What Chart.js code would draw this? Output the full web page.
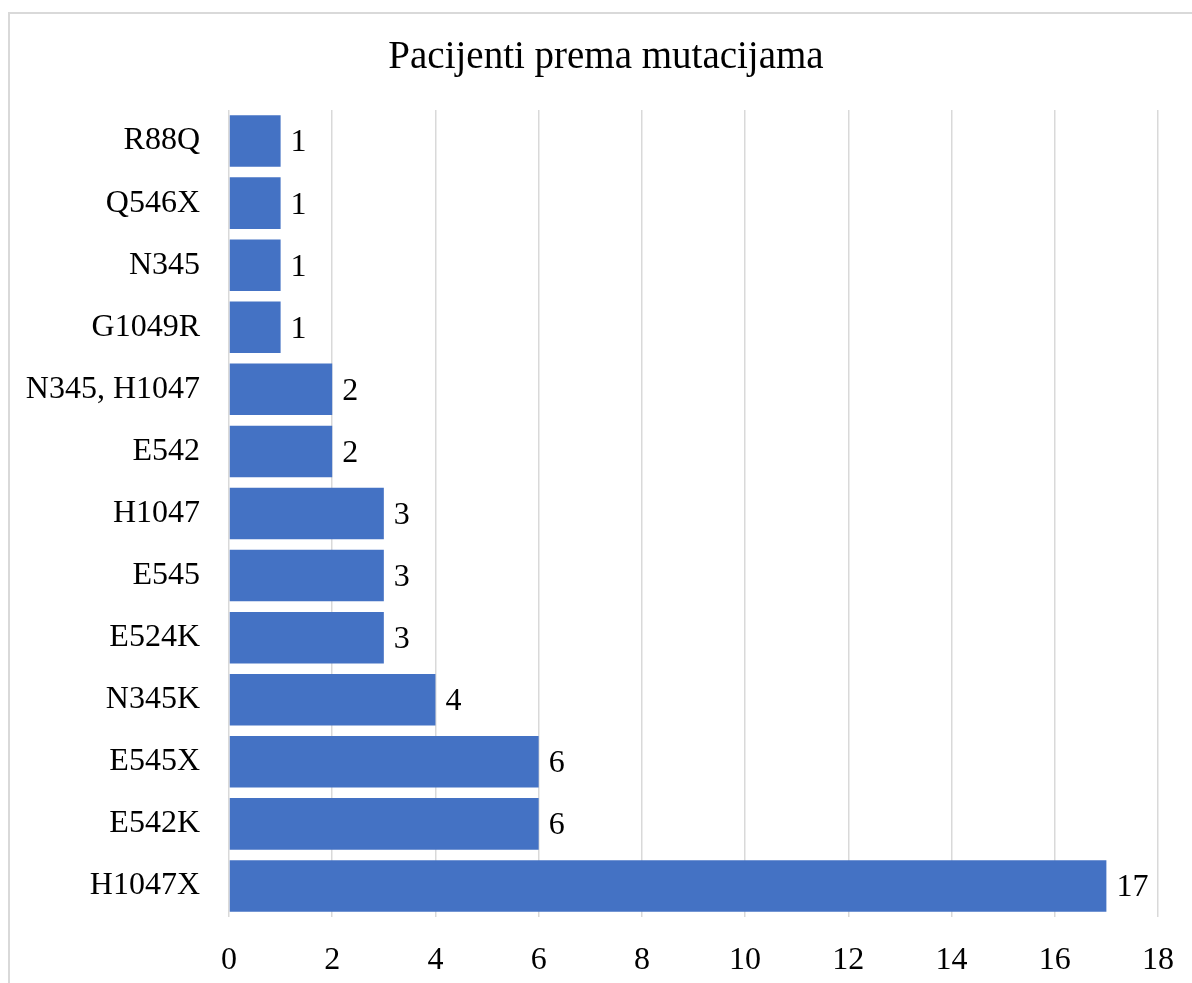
<!DOCTYPE html>
<html>
<head>
<meta charset="utf-8">
<script src="https://cdn.jsdelivr.net/npm/chart.js@4"></script>
<style>
    body { margin: 0; background: #fff; overflow: hidden; }
    .frame { position: absolute; left: 8px; top: 12px; width: 1400px; height: 1200px; border: 2px solid #d9d9d9; }
    .wrap { position: absolute; left: 0; top: 0; width: 1192px; height: 983px; }
</style>
</head>
<body>
<div class="frame"></div>
<div class="wrap"><canvas id="mut-chart"></canvas></div>
<script>
const chartTitle = 'Pacijenti prema mutacijama';
const categories = ['R88Q', 'Q546X', 'N345', 'G1049R', 'N345, H1047', 'E542', 'H1047', 'E545', 'E524K', 'N345K', 'E545X', 'E542K', 'H1047X'];
const patients = [1, 1, 1, 1, 2, 2, 3, 3, 3, 4, 6, 6, 17];
const xTicks = [0, 2, 4, 6, 8, 10, 12, 14, 16, 18];

const fontFamily = '"Liberation Serif", "Times New Roman", serif';

// title centred on the whole frame, and value labels next to the bars
const chartText = {
    id: 'chartText',
    afterDraw(chart) {
        const ctx = chart.ctx;
        ctx.save();
        ctx.fillStyle = '#000';
        ctx.font = '39px ' + fontFamily;
        ctx.textAlign = 'center';
        ctx.textBaseline = 'middle';
        ctx.fillText(chartTitle, 606, 58);

        ctx.font = '32px ' + fontFamily;
        ctx.textAlign = 'left';
        const meta = chart.getDatasetMeta(0);
        meta.data.forEach((bar, i) => {
            ctx.fillText(String(patients[i]), bar.x + 10, bar.y + 2);
        });
        ctx.restore();
    }
};

const canvas = document.getElementById('mut-chart');
const chart = new Chart(canvas, {
    type: 'bar',
    data: {
        labels: categories,
        datasets: [{
            data: patients,
            backgroundColor: '#4472c4',
            borderWidth: 0,
            barPercentage: 0.83,
            categoryPercentage: 1
        }]
    },
    options: {
        indexAxis: 'y',
        responsive: true,
        maintainAspectRatio: false,
        animation: false,
        layout: {
            padding: { top: 110, right: 34, bottom: 0, left: 0 }
        },
        scales: {
            x: {
                min: 0,
                max: 18,
                afterBuildTicks: scale => {
                    scale.ticks = xTicks.map(v => ({ value: v }));
                },
                afterFit: scale => {
                    scale.height = 66;
                    scale.paddingLeft = 0;
                    scale.paddingRight = 0;
                },
                grid: {
                    color: '#d9d9d9',
                    lineWidth: 1.5,
                    drawTicks: false
                },
                border: { display: false },
                ticks: {
                    padding: 24,
                    color: '#000',
                    font: { family: fontFamily, size: 32 }
                }
            },
            y: {
                afterFit: scale => {
                    scale.width = 229;
                    scale.paddingTop = 0;
                    scale.paddingBottom = 0;
                },
                grid: { display: false, drawTicks: false },
                border: { display: false },
                ticks: {
                    padding: 29,
                    color: '#000',
                    font: { family: fontFamily, size: 32 }
                }
            }
        },
        plugins: {
            legend: { display: false },
            tooltip: { enabled: false },
            title: { display: false }
        }
    },
    plugins: [chartText]
});
</script>
</body>
</html>
